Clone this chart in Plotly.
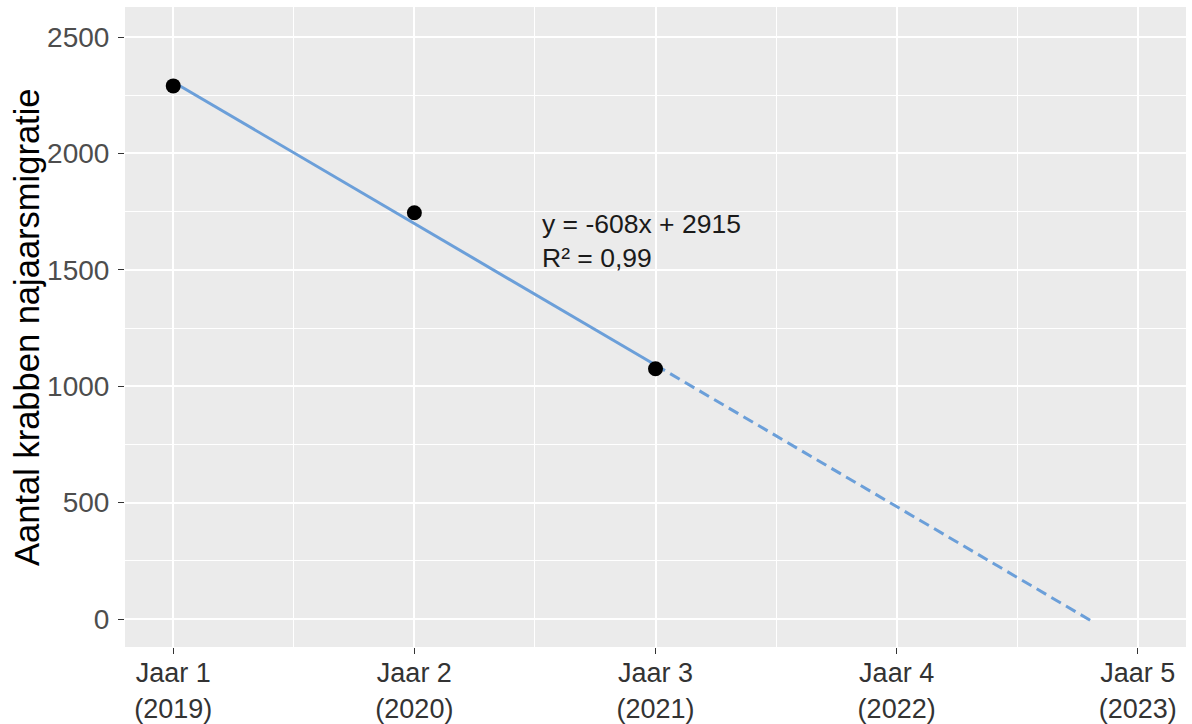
import numpy as np
import plotly.graph_objects as go

# Data
years = [1, 2, 3]
counts = [2290, 1745, 1075]
tick_vals = [1, 2, 3, 4, 5]
tick_text = ["Jaar 1<br>(2019)", "Jaar 2<br>(2020)", "Jaar 3<br>(2021)", "Jaar 4<br>(2022)", "Jaar 5<br>(2023)"]
y_tick_vals = [0, 500, 1000, 1500, 2000, 2500]
slope = -608
intercept = 2915
proj_end = 4.81
eq_label = "y = -608x + 2915<br>R² = 0,99"

fit_x = np.array([years[0], years[-1]])
proj_x = np.array([years[-1], proj_end])

FONT = "Liberation Sans, Arial, sans-serif"
LINE_COLOR = "#6B9FD9"

fig = go.Figure()
fig.add_trace(go.Scatter(x=fit_x, y=slope * fit_x + intercept, mode="lines",
                         line=dict(color=LINE_COLOR, width=3), showlegend=False))
fig.add_trace(go.Scatter(x=proj_x, y=slope * proj_x + intercept, mode="lines",
                         line=dict(color=LINE_COLOR, width=3, dash="11px,6px"), showlegend=False))
fig.add_trace(go.Scatter(x=years, y=counts, mode="markers",
                         marker=dict(color="black", size=15), showlegend=False))

fig.add_annotation(x=2.52, y=1626, xref="x", yref="y", text=eq_label, showarrow=False,
                   xanchor="left", yanchor="middle", align="left",
                   font=dict(family=FONT, size=26.5, color="#1a1a1a"))
fig.add_annotation(x=0, y=0.5, xref="paper", yref="paper", text="Aantal krabben najaarsmigratie",
                   textangle=-90, showarrow=False, xanchor="center", yanchor="middle",
                   xshift=-98, font=dict(family=FONT, size=34.5, color="black"))

fig.update_layout(
    width=1192, height=724,
    margin=dict(l=125, r=6, t=7, b=77),
    paper_bgcolor="white", plot_bgcolor="#EBEBEB",
    font=dict(family=FONT),
    xaxis=dict(range=[0.8, 5.2], tickmode="array", tickvals=tick_vals, ticktext=tick_text,
               automargin=False, ticklabelstandoff=-4,
               showgrid=True, gridcolor="white", gridwidth=1.6, zeroline=False,
               ticks="outside", ticklen=6, tickwidth=1.2, tickcolor="#333333",
               tickfont=dict(family=FONT, size=27, color="#333333"), showline=False,
               minor=dict(tickmode="array", tickvals=[1.5, 2.5, 3.5, 4.5], showgrid=True,
                          gridcolor="white", gridwidth=0.8, ticks="")),
    yaxis=dict(range=[-120, 2629], tickmode="array", tickvals=y_tick_vals,
               automargin=False, ticklabelstandoff=3,
               showgrid=True, gridcolor="white", gridwidth=1.6, zeroline=False,
               ticks="outside", ticklen=6, tickwidth=1.2, tickcolor="#333333",
               tickfont=dict(family=FONT, size=28, color="#4D4D4D"), showline=False,
               minor=dict(tickmode="array", tickvals=[250, 750, 1250, 1750, 2250], showgrid=True,
                          gridcolor="white", gridwidth=0.8, ticks="")),
)

fig.write_html("out.html", config={"displayModeBar": False},
               post_script="document.body.style.margin='0';document.body.style.overflow='hidden';")
